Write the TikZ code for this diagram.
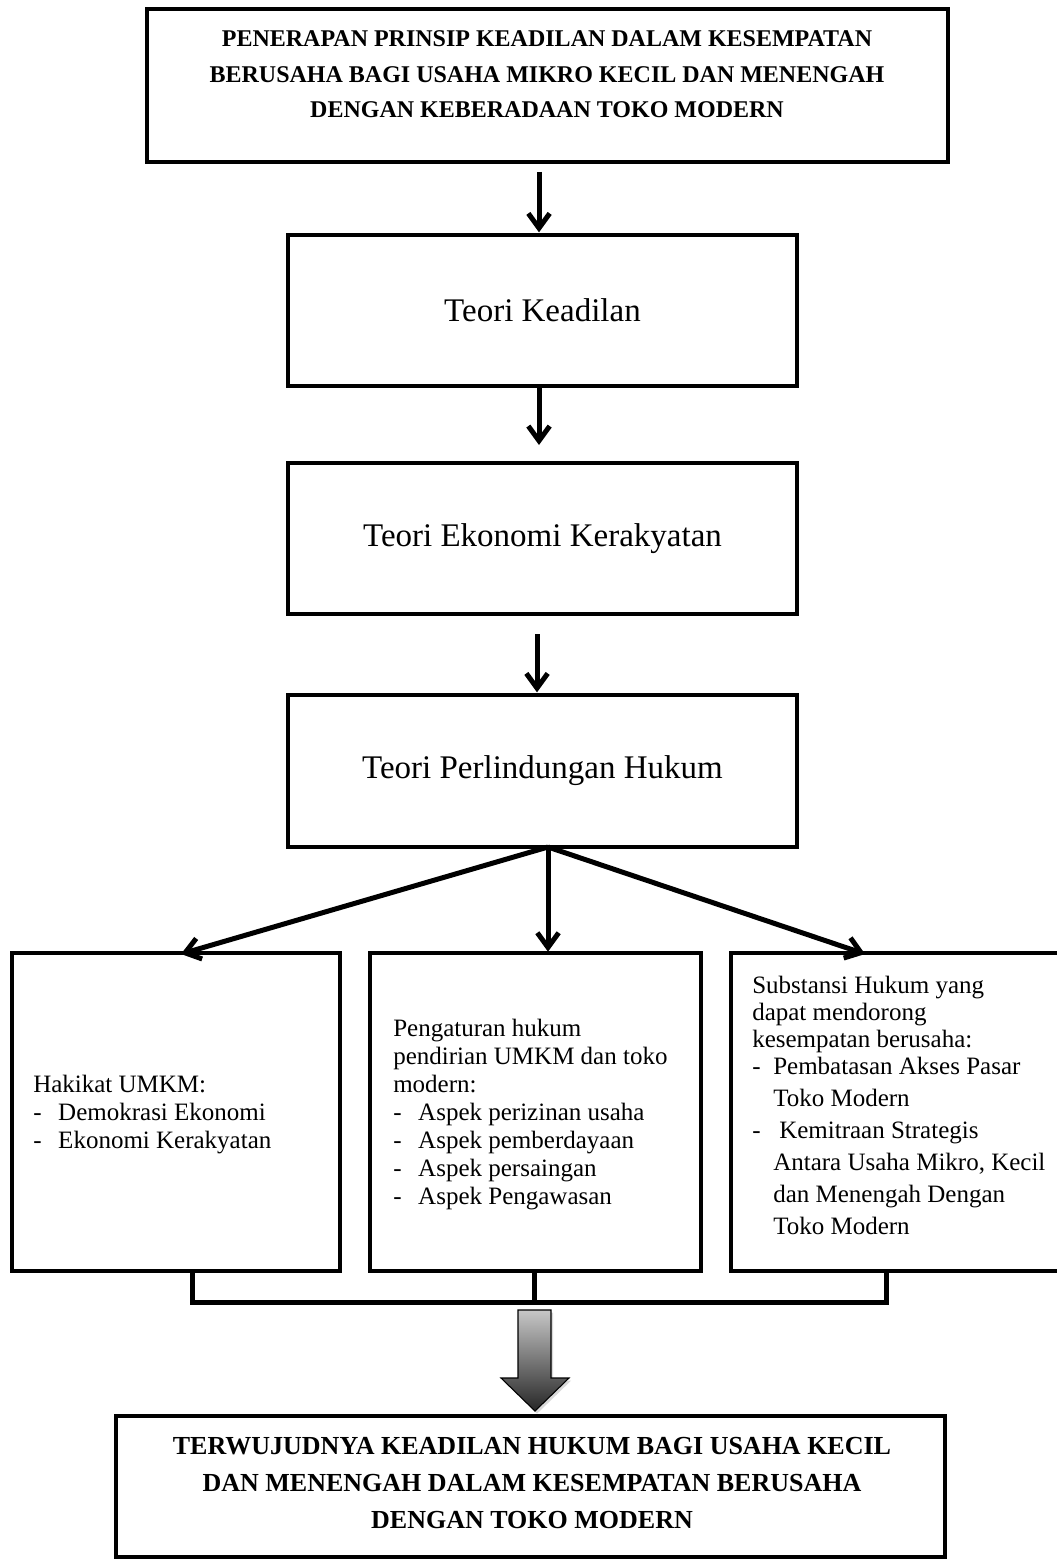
\documentclass[tikz,border=0pt]{standalone}
\usepackage{fontspec}
\setmainfont{Liberation Serif}
\usetikzlibrary{arrows.meta,shadows}
\begin{document}
\begin{tikzpicture}[x=0.75pt,y=-0.75pt,
  box/.style={draw, line width=3.4pt, rectangle, inner sep=0pt, outer sep=0pt},
  arr/.style={line width=3.75pt, -{Straight Barb[length=11pt,width=16pt]}},
  link/.style={line width=3.75pt},
  txt/.style={inner sep=0pt, align=left, anchor=west, font=\fontsize{18.75}{21}\selectfont},
  ttl/.style={inner sep=0pt, align=center},
  theo/.style={font=\fontsize{24.75}{30}\selectfont}]
\useasboundingbox (0,0) rectangle (1056,1562);
% top title box
\node[box, minimum width=600.75pt, minimum height=114.75pt] (b1) at (547.5,85.5) {};
\node[ttl, font=\bfseries\fontsize{18}{26.6}\selectfont] (t1) at (547,74.5)
  {PENERAPAN PRINSIP KEADILAN DALAM KESEMPATAN\\ BERUSAHA BAGI USAHA MIKRO KECIL DAN MENENGAH\\ DENGAN KEBERADAAN TOKO MODERN};
% theory boxes
\node[box, theo, minimum width=381.75pt, minimum height=113.25pt] (b2) at (542.5,310.5) {Teori Keadilan};
\node[box, theo, minimum width=381.75pt, minimum height=113.25pt] (b3) at (542.5,538.5) {Teori Ekonomi Kerakyatan};
\node[box, theo, minimum width=381.75pt, minimum height=114pt] (b4) at (542.5,771) {Teori Perlindungan Hukum};
% bottom row boxes
\node[box, minimum width=246pt, minimum height=238.5pt] (b5) at (176,1112) {};
\node[box, minimum width=248.25pt, minimum height=238.5pt] (b6) at (535.5,1112) {};
\node[box, minimum width=254.25pt, minimum height=238.5pt] (b7) at (900.5,1112) {};
\node[txt] (t5) at (33,1115) {Hakikat UMKM:\\
  \hbox to 18.75pt{-\hfil}Demokrasi Ekonomi\\
  \hbox to 18.75pt{-\hfil}Ekonomi Kerakyatan};
\node[txt] (t6) at (393,1115) {Pengaturan hukum\\ pendirian UMKM dan toko\\ modern:\\
  \hbox to 18.75pt{-\hfil}Aspek perizinan usaha\\
  \hbox to 18.75pt{-\hfil}Aspek pemberdayaan\\
  \hbox to 18.75pt{-\hfil}Aspek persaingan\\
  \hbox to 18.75pt{-\hfil}Aspek Pengawasan};
\node[txt, font=\fontsize{18.75}{20.25}\selectfont] (t7) at (752,1105) {Substansi Hukum yang\\ dapat mendorong\\ kesempatan berusaha:\\
  \hbox to 15.75pt{-\hfil}Pembatasan Akses Pasar\\[3.75pt]
  \hspace*{15.75pt}Toko Modern\\[3.75pt]
  \hbox to 15.75pt{-\hfil}\hspace*{4.5pt}Kemitraan Strategis\\[3.75pt]
  \hspace*{15.75pt}Antara Usaha Mikro, Kecil\\[3.75pt]
  \hspace*{15.75pt}dan Menengah Dengan\\[3.75pt]
  \hspace*{15.75pt}Toko Modern};
% final box
\node[box, minimum width=621.75pt, minimum height=105.75pt] (b8) at (530.5,1486.5) {};
\node[ttl, font=\bfseries\fontsize{19.5}{27.4}\selectfont] (t8) at (532,1483)
  {TERWUJUDNYA KEADILAN HUKUM BAGI USAHA KECIL\\ DAN MENENGAH DALAM KESEMPATAN BERUSAHA\\ DENGAN TOKO MODERN};
% vertical arrows
\coordinate (a1s) at (539,172);
\draw[arr, shorten >=2pt] (a1s) -- (a1s |- b2.north);
\coordinate (a2e) at (539,445);
\draw[arr] (a2e |- b2.south) -- (a2e);
\coordinate (a3s) at (537,634);
\draw[arr, shorten >=2pt] (a3s) -- (a3s |- b4.north);
% fan arrows
\coordinate (fo) at (548,847);
\coordinate (lt) at (181,954);
\coordinate (rt) at (865,954);
\draw[arr] (fo) -- (lt);
\draw[arr, shorten >=1pt] (fo) -- (fo |- b6.north);
\draw[arr] (fo) -- (rt);
% bracket
\coordinate (k1) at (192,1302);
\coordinate (k2) at (534,1302);
\coordinate (k3) at (886,1302);
\draw[link] (k1 |- b5.south) -- (k1) -- (k3) -- (k3 |- b7.south);
\draw[link] (k2 |- b6.south) -- (k2);
% block arrow
\path[draw=black, line width=0.8pt, top color=black!22, bottom color=black!85,
  drop shadow={opacity=0.3, shadow xshift=1.5pt, shadow yshift=-2pt}]
  (518,1310) -- (551,1310) -- (551,1378) -- (569,1378) -- (535,1411) -- (501,1378) -- (518,1378) -- cycle;
\end{tikzpicture}
\end{document}
